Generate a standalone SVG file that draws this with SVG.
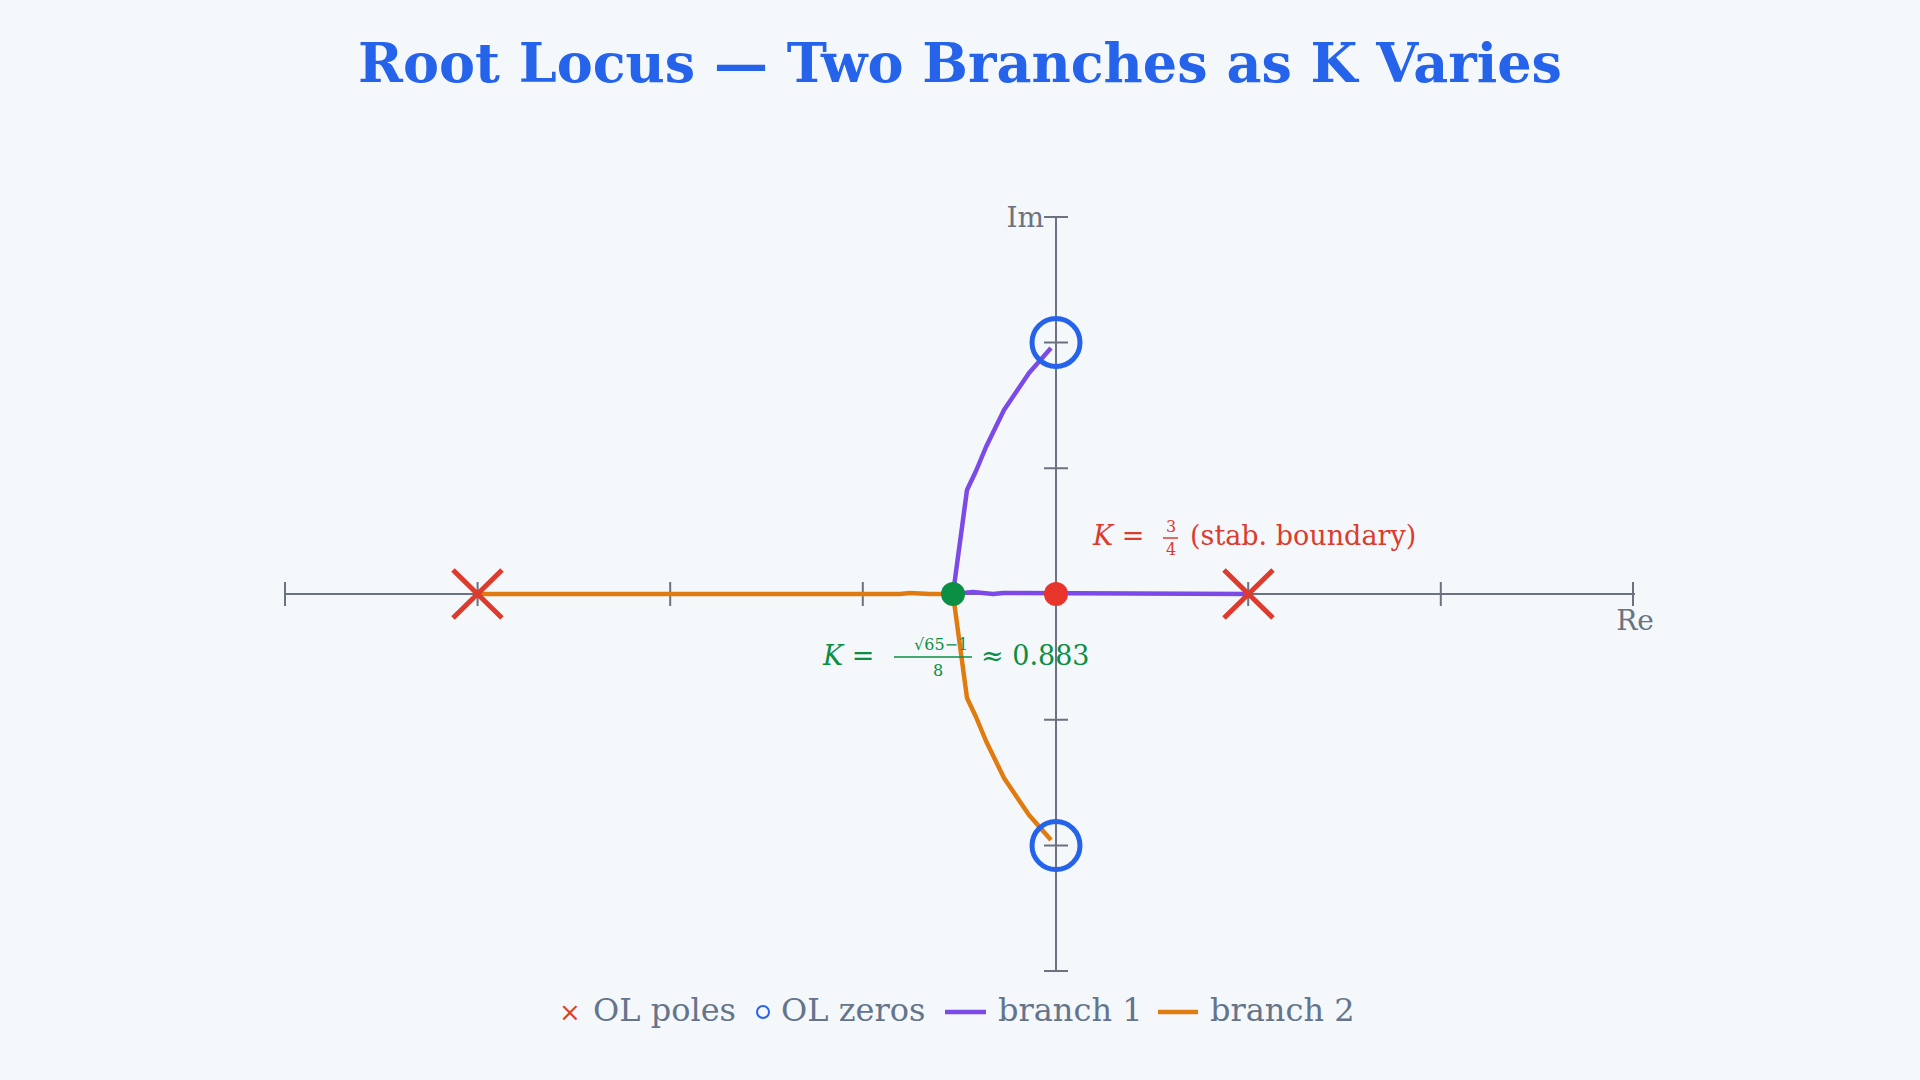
<svg xmlns="http://www.w3.org/2000/svg" width="1920" height="1080" viewBox="0 0 1920 1080">
<style>
.ax{stroke:#6b7280;stroke-width:2;fill:none}
.lbl{font-family:"DejaVu Serif","Liberation Serif",serif;fill:#6b7280;font-size:28px}
.leg{font-family:"DejaVu Serif","Liberation Serif",serif;fill:#64748b;font-size:32px}
.m{font-family:"DejaVu Serif","Liberation Serif",serif;font-size:27px}
.sm{font-family:"DejaVu Serif","Liberation Serif",serif;font-size:16px}
.pole{stroke:#dc3b2e;stroke-width:5;fill:none}
.zero{stroke:#2563eb;stroke-width:5;fill:none}
.b1{stroke:#7c4ae6;stroke-width:4.5;fill:none;stroke-linejoin:round}
.b2{stroke:#e07b10;stroke-width:4.5;fill:none;stroke-linejoin:round}
</style>
<rect width="1920" height="1080" fill="#f5f8fb"/>
<text x="960" y="82" text-anchor="middle" font-family="DejaVu Serif,Liberation Serif,serif" font-weight="bold" font-size="54" fill="#2563eb">Root Locus — Two Branches as K Varies</text>
<g id="axes">
<path class="ax" d="M285 594H1635M1056 217V971"/>
<path class="ax" d="M285 582v24M477.6 582v24M670.2 582v24M862.8 582v24M1248.2 582v24M1440.8 582v24M1633 582v24"/>
<path class="ax" d="M1044 217h24M1044 342.4h24M1044 468.2h24M1044 719.8h24M1044 845.6h24M1044 971h24"/>
<text class="lbl" x="1044" y="227" text-anchor="end">Im</text>
<text class="lbl" x="1635" y="630" text-anchor="middle">Re</text>
</g>
<g id="connectors">
<path class="b1" d="M953 594L967 490L976 471L986 447L1004 410L1029 373L1051 348"/>
<path class="b1" d="M953 594L973 592L993 594L1003 593L1248 594"/>
<path class="b2" d="M477.6 594L900 594L910 593L930 594L953 594"/>
<path class="b2" d="M953 594L967 698L976 717L986 741L1004 778L1029 815L1051 840"/>
</g>
<g id="poles">
<path class="pole" d="M453 570l49 48M502 570l-49 48"/>
<path class="pole" d="M1224 570l49 48M1273 570l-49 48"/>
</g>
<g id="zeros">
<circle class="zero" cx="1056" cy="342.4" r="24"/>
<circle class="zero" cx="1056" cy="845.6" r="24"/>
</g>
<g id="breakaway">
<circle cx="953" cy="594" r="12" fill="#0a8f45"/>
<text class="m" x="823" y="665" fill="#0a8f45"><tspan font-style="italic">K</tspan> = </text>
<text class="sm" x="914" y="650" fill="#0a8f45">√65−1</text>
<path d="M894 657h78" stroke="#0a8f45" stroke-width="1.5"/>
<text class="sm" x="933" y="676" fill="#0a8f45">8</text>
<text class="m" x="981" y="665" fill="#0a8f45">≈ 0.883</text>
</g>
<g id="boundary">
<circle cx="1056" cy="594" r="12" fill="#e8352b"/>
<text class="m" x="1093" y="545" fill="#dc3b2e"><tspan font-style="italic">K</tspan> = </text>
<text class="sm" x="1166" y="532" fill="#dc3b2e">3</text>
<path d="M1163 538h15" stroke="#dc3b2e" stroke-width="1.5"/>
<text class="sm" x="1166" y="555" fill="#dc3b2e">4</text>
<text class="m" x="1190" y="545" fill="#dc3b2e">(stab. boundary)</text>
</g>
<g id="legend">
<text class="leg" x="559" y="1021" fill="#dc3b2e" style="fill:#dc3b2e;font-size:26px">×</text>
<text class="leg" x="593" y="1021">OL poles</text>
<circle cx="763" cy="1012" r="6" fill="none" stroke="#2563eb" stroke-width="2"/>
<text class="leg" x="781" y="1021">OL zeros</text>
<path d="M945 1012h41" class="b1"/>
<text class="leg" x="998" y="1021">branch 1</text>
<path d="M1158 1012h40" class="b2"/>
<text class="leg" x="1210" y="1021">branch 2</text>
</g>
</svg>
